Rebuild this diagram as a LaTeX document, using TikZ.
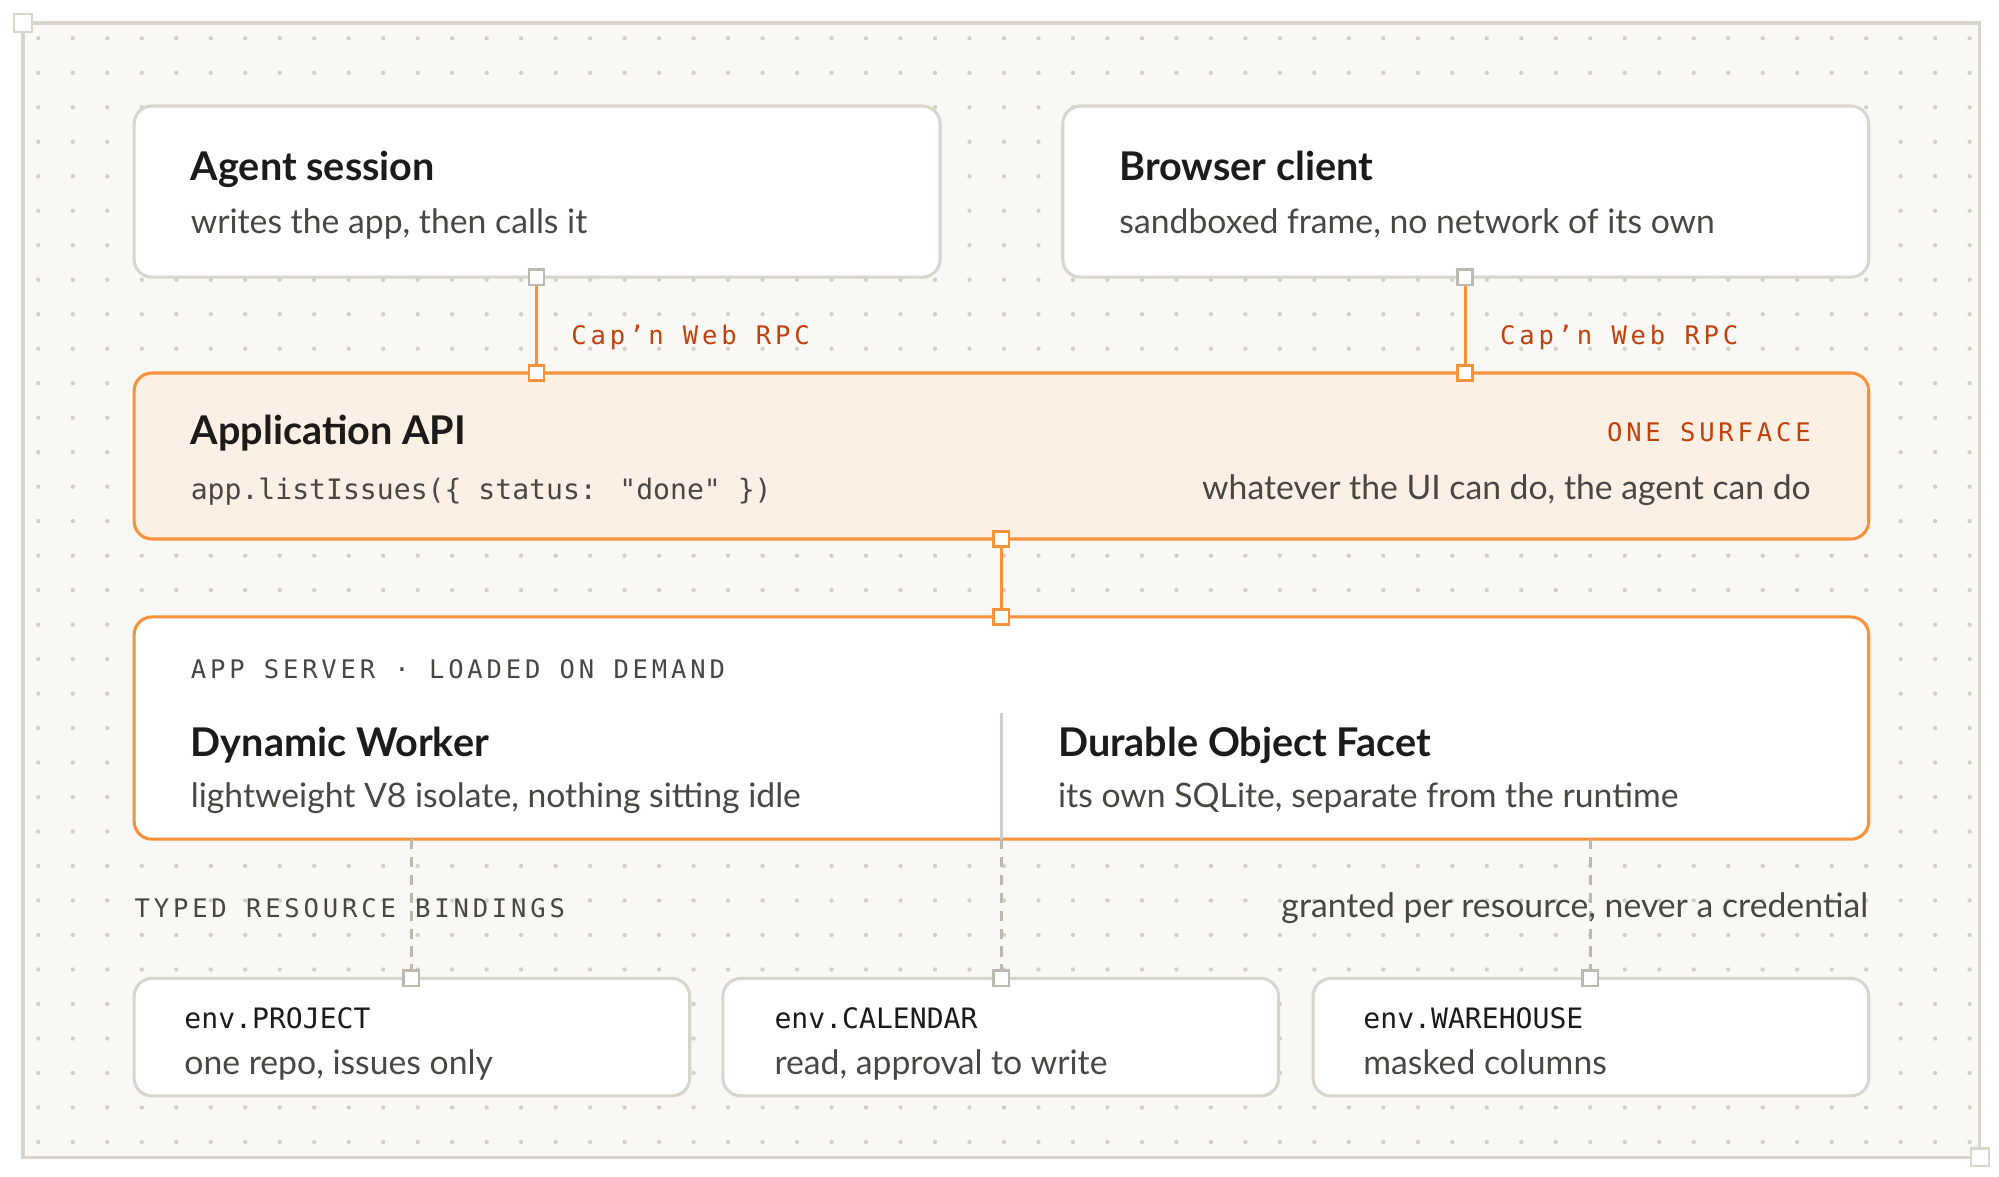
\documentclass[tikz,border=0pt]{standalone}
\usepackage{fontspec}
\setmainfont{Lato}
\newfontfamily\monof{DejaVu Sans Mono}
\newfontfamily\monosp{DejaVu Sans Mono}[LetterSpace=15]
\begin{document}
\definecolor{frame}{HTML}{D9D4CC}
\definecolor{bg}{HTML}{FAF8F5}
\definecolor{dotc}{HTML}{D3CEC6}
\definecolor{org}{HTML}{F5923A}
\definecolor{orgfill}{HTML}{FCEFE4}
\definecolor{rust}{HTML}{C2410C}
\definecolor{ink}{HTML}{1C1B19}
\definecolor{sub}{HTML}{4A4742}
\definecolor{gline}{HTML}{BDB8B0}
\begin{tikzpicture}[x=0.5pt,y=-0.5pt,
  card/.style={draw=frame,line width=1.2pt,fill=white,rounded corners=7pt},
  hot/.style={draw=org,line width=1.2pt,rounded corners=7pt},
  title/.style={anchor=base west,font=\fontsize{15.5}{17}\selectfont\bfseries,text=ink,inner sep=0},
  body/.style={anchor=base west,font=\fontsize{13.2}{15}\selectfont,text=sub,inner sep=0},
  mono/.style={anchor=base west,font=\fontsize{10}{12}\selectfont\monosp,inner sep=0},
  code/.style={anchor=base west,font=\fontsize{11}{13}\selectfont\monof,text=sub,inner sep=0},
  sq/.style={draw=#1,fill=white,line width=1pt,minimum size=6pt,inner sep=0,shape=rectangle},
  gsq/.style={sq=gline}, osq/.style={sq=org},
  link/.style={draw=org,line width=1.2pt},
  dashln/.style={draw=gline,line width=1pt,dash pattern=on 4pt off 3pt}]
\useasboundingbox (0,0) rectangle (1565,921);
\fill[bg] (18,18) rectangle (1550,906);
\foreach \x in {30,57,...,1545}{\foreach \y in {30,57,...,900}{\fill[dotc] (\x,\y) circle (0.85pt);}}
\draw[frame,line width=1.2pt] (18,18) rectangle (1550,906);
\node[sq=frame,minimum size=7pt] (c1) at (18,18) {};
\node[sq=frame,minimum size=7pt] (c2) at (1550,906) {};
% top cards
\path[card] (105,83) rectangle (736,217);
\path[card] (832,83) rectangle (1463,217);
\node[title] (t1) at (149,141) {Agent session};
\node[body] (s1) at (149,183) {writes the app, then calls it};
\node[title] (t2) at (876,141) {Browser client};
\node[body] (s2) at (876,183) {sandboxed frame, no network of its own};
% api
\path[hot,fill=orgfill] (105,292) rectangle (1463,422);
\node[title] (t3) at (149,348) {Application API};
\node[code] (s3) at (149,391) {app.listIssues(\{ status: "done" \})};
\node[mono,anchor=base east,text=rust] (os) at (1418,346) {ONE SURFACE};
\node[body,anchor=base east] (s4) at (1418,391) {whatever the UI can do, the agent can do};
% rpc links
\coordinate (a1) at (420,217); \coordinate (a2) at (420,292);
\coordinate (b1) at (1147,217); \coordinate (b2) at (1147,292);
\draw[link] (a1) -- (a2); \draw[link] (b1) -- (b2);
\node[gsq] (qa1) at (a1) {}; \node[osq] (qa2) at (a2) {};
\node[gsq] (qb1) at (b1) {}; \node[osq] (qb2) at (b2) {};
\node[mono,text=rust] (r1) at (447,270) {Cap’n Web RPC};
\node[mono,text=rust] (r2) at (1174,270) {Cap’n Web RPC};
% server
\path[hot,fill=white] (105,483) rectangle (1463,657);
\coordinate (m1) at (784,422); \coordinate (m2) at (784,483);
\draw[link] (m1) -- (m2);
\node[osq] (qm1) at (m1) {}; \node[osq] (qm2) at (m2) {};
\node[mono,text=sub] (as) at (149,531) {APP SERVER · LOADED ON DEMAND};
\draw[gline!70,line width=1pt] (784,558) -- (784,657);
\node[title] (t5) at (149,592) {Dynamic Worker};
\node[body] (s5) at (149,632) {lightweight V8 isolate, nothing sitting idle};
\node[title] (t6) at (828,592) {Durable Object Facet};
\node[body] (s6) at (828,632) {its own SQLite, separate from the runtime};
% bindings
\foreach \x/\n in {322/p,784/c,1245/w}{
  \coordinate (u\n) at (\x,657); \coordinate (d\n) at (\x,766);
  \draw[dashln] (u\n) -- (d\n);}
\node[mono,text=sub] (tb) at (105,718) {TYPED RESOURCE BINDINGS};
\node[body,anchor=base east] (gr) at (1463,718) {granted per resource, never a credential};
\path[card] (105,766) rectangle (540,858);
\path[card] (566,766) rectangle (1001,858);
\path[card] (1028,766) rectangle (1463,858);
\node[gsq] (qp) at (dp) {}; \node[gsq] (qc) at (dc) {}; \node[gsq] (qw) at (dw) {};
\node[code,text=ink] (e1) at (144,805) {env.PROJECT};
\node[body] (f1) at (144,841) {one repo, issues only};
\node[code,text=ink] (e2) at (606,805) {env.CALENDAR};
\node[body] (f2) at (606,841) {read, approval to write};
\node[code,text=ink] (e3) at (1067,805) {env.WAREHOUSE};
\node[body] (f3) at (1067,841) {masked columns};
\end{tikzpicture}
\end{document}
